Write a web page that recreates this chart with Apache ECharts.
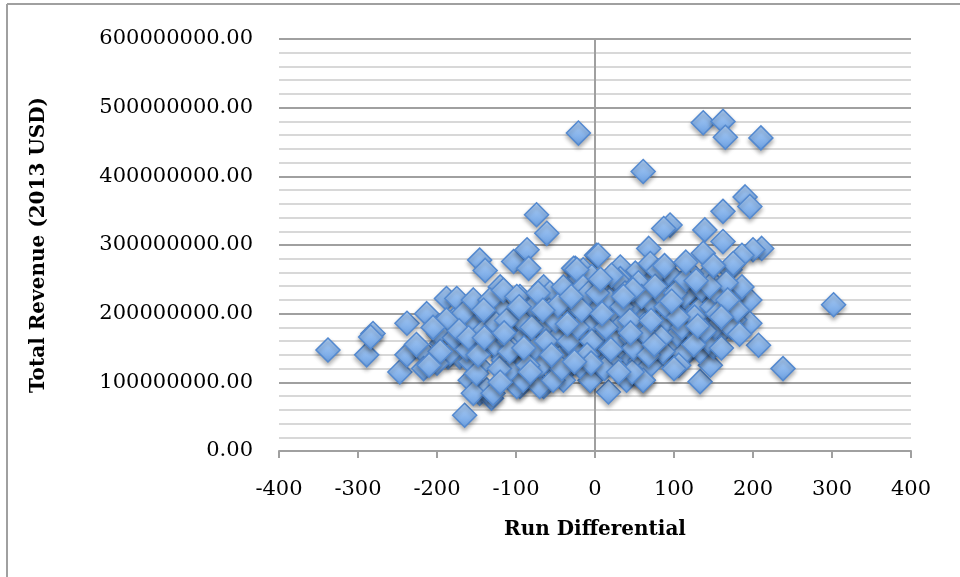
<!DOCTYPE html>
<html>
<head>
<meta charset="utf-8">
<script src="https://cdn.jsdelivr.net/npm/echarts@6/dist/echarts.min.js"></script>
<style>
html,body{margin:0;padding:0;background:#fff;}
#chart{width:960px;height:577px;}
</style>
</head>
<body>
<div id="chart"></div>
<script>
// Run differential (x) and total revenue in millions of 2013 USD (y)
const runDiff = [
-338,-289,-281,-284,-247,-238,-238,-213,-215,-217,-194,-188,-175,-179,-165,-146,-139,-146,-131,-74,-61,-103,-86,-84,-25,2,-65,17,-65,-95,-158,-21,61,190,196,162,95,87,139,162,211,200,137,68,186,171,196,302,196,207,238,133,146,4,-27,137,162,165,210,
32,-15,-6,95,141,67,51,-129,-154,-116,-86,-44,2,40,82,110,137,167,175,-188,-186,-150,-133,-103,-70,-36,-11,23,53,82,99,120,141,156,177,-171,-146,-137,-154,-129,-99,-70,-95,-61,-32,-6,2,40,57,74,99,116,95,133,40,61,23,-19,-53,-82,-116,-129,-167,-32,-19,15,32,61,108,124,154,-95,-57,-11,40,57,23,-36,-70,-99,-137,-154,-120,
-4,30,70,93,175,186,6,57,82,108,141,171,150,124,120,150,57,70,61,-6,-19,-40,19,95,112,
-188,-198,-184,-200,-158,-150,-124,-116,-91,-70,-53,-133,-116,-99,-40,-23,-15,
-178,-162,-141,-125,-110,-108,-92,-88,-78,-76,-64,-58,-48,-45,-38,-28,-25,-14,-8,-2,8,10,12,18,26,28,35,38,45,47,50,55,63,66,72,78,80,86,88,92,101,104,106,113,118,122,128,131,135,144,148,152,158,160,166,172,180,
-196,-172,-160,-148,-141,-121,-112,-104,-96,-85,-80,-72,-62,-50,-47,-33,-22,-17,-4,3,14,21,34,44,49,59,65,76,84,90,102,110,115,126,139,145,155,168,183,
-120,-108,-90,-42,-10,30,68,100,125,-66,-30,7,48,88,115,150,-210,-226,-205,
-55,-35,-5,20,45,75,105,130,-140,-115,-82,-26,9,36,71,97,128,160
];
const revenueM = [
147,140,171,166,115,186,140,200,142,120,157,222,222,191,52,278,263,84,77,344,317,276,293,266,266,285,239,86,94,94,103,463,407,370,356,349,329,324,322,305,295,293,288,295,285,264,220,213,186,154,120,101,125,285,266,478,480,457,456,
268,264,251,256,254,251,259,220,186,205,208,220,208,244,237,208,220,205,225,152,137,157,157,176,171,176,193,179,181,196,181,169,188,169,191,137,123,89,84,84,94,94,123,132,123,103,152,142,123,162,157,142,132,145,103,103,142,137,152,142,137,171,200,239,251,232,251,232,244,232,239,225,230,220,210,200,208,200,196,196,196,220,239,
254,247,273,259,273,239,210,176,200,210,191,196,230,239,166,152,132,125,103,103,123,103,132,152,142,
191,171,142,128,130,113,152,132,103,123,103,220,234,225,239,264,239,
165,148,175,185,160,118,165,185,210,150,180,205,165,135,190,150,210,170,230,185,165,195,120,220,160,195,185,230,165,115,215,245,185,145,215,175,262,145,222,190,203,170,125,226,190,258,170,205,236,160,210,180,225,150,245,180,205,
145,175,165,140,205,120,190,148,210,125,180,230,160,190,212,160,180,205,160,230,180,256,210,190,150,225,170,240,165,210,230,180,250,195,175,240,200,220,170,
100,145,150,120,140,115,140,120,155,205,225,250,235,270,275,270,125,155,180,
140,185,128,148,172,155,195,182,165,172,115,130,200,225,190,218,248,195
];
const yTicks = { min: 0, max: 600000000, step: 100000000 };
const xTicks = { min: -400, max: 400, step: 100 };

const points = runDiff.map((x, i) => [x, revenueM[i] * 1e6]);

const chart = echarts.init(document.getElementById('chart'), null, { renderer: 'canvas' });
const serif = '"DejaVu Serif", "Liberation Serif", serif';
const axisGray = '#a0a0a0';

chart.setOption({
  animation: false,
  backgroundColor: '#ffffff',
  grid: { left: 279, right: 49, top: 39, bottom: 126, containLabel: false },
  graphic: [
    { type: 'line', shape: { x1: 7, y1: 4, x2: 960, y2: 4 }, style: { stroke: axisGray, lineWidth: 2 }, silent: true },
    { type: 'line', shape: { x1: 7, y1: 4, x2: 7, y2: 577 }, style: { stroke: axisGray, lineWidth: 2 }, silent: true }
  ],
  xAxis: {
    type: 'value',
    min: xTicks.min, max: xTicks.max, interval: xTicks.step,
    name: 'Run Differential',
    nameLocation: 'middle',
    nameGap: 69,
    nameTextStyle: { fontFamily: serif, fontWeight: 'bold', fontSize: 20, color: '#000' },
    axisLine: { show: true, onZero: false, lineStyle: { color: axisGray, width: 2 } },
    axisTick: { show: true, length: 7, inside: false, lineStyle: { color: axisGray, width: 2 } },
    axisLabel: { fontFamily: serif, fontSize: 21, color: '#000', margin: 28 },
    splitLine: { show: false }
  },
  yAxis: [
    {
      type: 'value',
      min: yTicks.min, max: yTicks.max, interval: yTicks.step,
      name: 'Total Revenue (2013 USD)',
      nameLocation: 'middle',
      nameGap: 230,
      nameTextStyle: { fontFamily: serif, fontWeight: 'bold', fontSize: 20, color: '#000' },
      axisLine: { show: false, onZero: false },
      axisTick: { show: false },
      axisLabel: {
        fontFamily: serif, fontSize: 21, color: '#000', margin: 26,
        formatter: v => Number(v).toFixed(2)
      },
      splitLine: { show: true, lineStyle: { color: '#a0a0a0', width: 2 } },
      minorTick: { show: false, splitNumber: 5 },
      minorSplitLine: { show: true, lineStyle: { color: '#cbcbcb', width: 1.5 } }
    },
    {
      type: 'value',
      position: 'left',
      min: yTicks.min, max: yTicks.max, interval: yTicks.step,
      axisLine: { show: true, onZero: true, lineStyle: { color: axisGray, width: 2 } },
      axisTick: { show: true, length: 7, lineStyle: { color: axisGray, width: 2 } },
      axisLabel: { show: false },
      splitLine: { show: false }
    }
  ],
  series: [{
    type: 'scatter',
    data: points,
    symbol: 'diamond',
    symbolSize: 24,
    itemStyle: {
      opacity: 1,
      color: new echarts.graphic.LinearGradient(0, 0, 0, 1, [
        { offset: 0, color: '#b2d2f8' },
        { offset: 1, color: '#6a9fe2' }
      ]),
      borderColor: '#5389d0',
      borderWidth: 1.5,
      shadowColor: 'rgba(0,0,0,0.3)',
      shadowBlur: 4,
      shadowOffsetY: 3
    },
    silent: true
  }]
});
</script>
</body>
</html>
